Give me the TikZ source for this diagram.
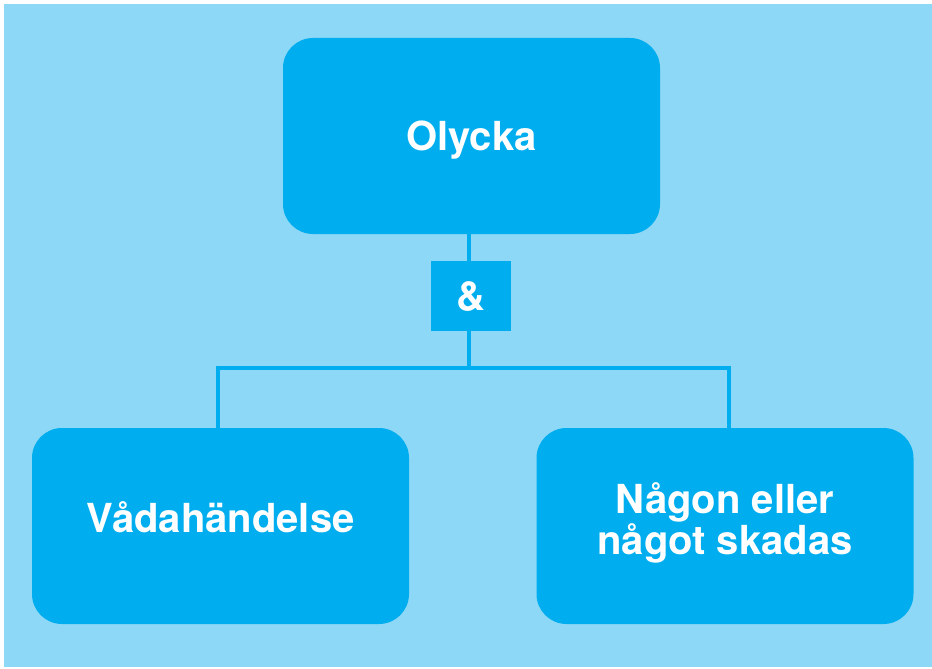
\documentclass[tikz,border=0pt]{standalone}
\usepackage{fontspec}
\setmainfont{TeX Gyre Heros}
\definecolor{bgblue}{HTML}{8DD8F6}
\definecolor{boxblue}{HTML}{00AEEF}
\begin{document}
\begin{tikzpicture}[x=1pt,y=-1pt,
  eventbox/.style={fill=boxblue, draw=none, rounded corners=30pt,
    minimum width=377pt, minimum height=196pt, inner sep=0pt},
  eventtext/.style={text=white, font=\fontsize{40}{41}\selectfont\bfseries,
    align=center, inner sep=0pt},
  gatebox/.style={fill=boxblue, draw=none, minimum width=80pt,
    minimum height=70pt, inner sep=0pt, text=white,
    font=\fontsize{40}{41}\selectfont\bfseries},
  link/.style={draw=boxblue, line width=4pt}]
  \useasboundingbox (0,0) rectangle (932,669);
  \fill[bgblue] (4,4) rectangle (932,667);

  % event boxes
  \node[eventbox] (top) at (471.5,136) {};
  \node[eventbox] (left) at (220.5,526) {};
  \node[eventbox] (right) at (725,526) {};
  % AND gate
  \node[gatebox] (and) at (471,296) {\&};

  % labels
  \node[eventtext] (toptext) at ([yshift=-4pt]top.center) {Olycka};
  \node[eventtext] (lefttext) at ([yshift=9pt]left.center) {Vådahändelse};
  \node[eventtext] (righttext) at ([yshift=3pt]right.center) {Någon eller\\något skadas};

  % connectors
  \coordinate (split) at (469,367.5);
  \coordinate (hl) at (216,367.5);
  \coordinate (hr) at (731,367.5);
  \coordinate (dl) at (218,365.5);
  \coordinate (dr) at (729,365.5);
  \draw[link] (top.south -| split) -- (and.north -| split);
  \draw[link] (and.south -| split) -- (split);
  \draw[link] (hl) -- (hr);
  \draw[link] (dl) -- (left.north -| dl);
  \draw[link] (dr) -- (right.north -| dr);
\end{tikzpicture}
\end{document}
